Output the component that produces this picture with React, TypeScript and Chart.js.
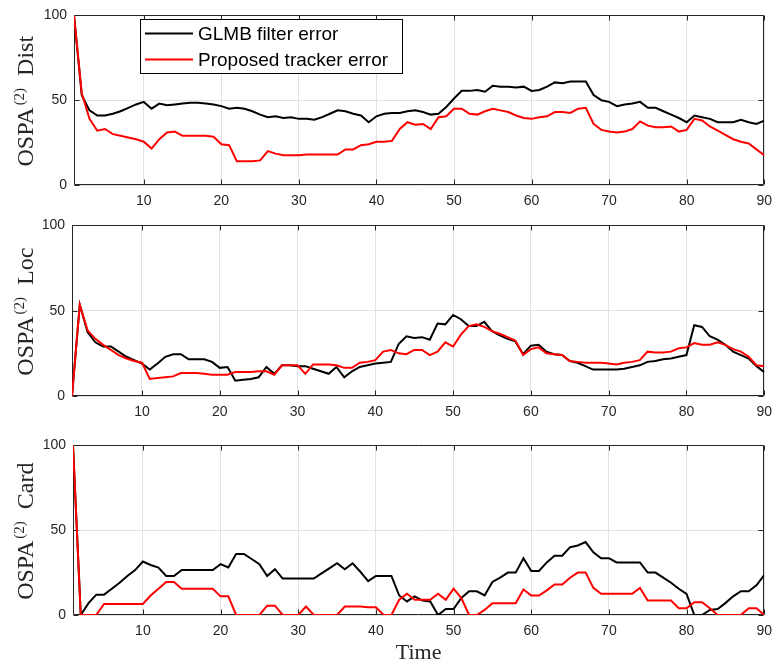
import React, { useEffect, useRef } from "react";
import { Chart, registerables } from "chart.js";
Chart.register(...registerables);

const TIME = [
  1, 2, 3, 4, 5, 6, 7, 8, 9, 10, 11, 12, 13, 14, 15, 16, 17, 18, 19, 20,
  21, 22, 23, 24, 25, 26, 27, 28, 29, 30, 31, 32, 33, 34, 35, 36, 37, 38, 39, 40,
  41, 42, 43, 44, 45, 46, 47, 48, 49, 50, 51, 52, 53, 54, 55, 56, 57, 58, 59, 60,
  61, 62, 63, 64, 65, 66, 67, 68, 69, 70, 71, 72, 73, 74, 75, 76, 77, 78, 79, 80,
  81, 82, 83, 84, 85, 86, 87, 88, 89, 90,
];
const X_TICKS = [10, 20, 30, 40, 50, 60, 70, 80, 90];
const Y_TICKS = [0, 50, 100];
const SERIES_LABELS = ["GLMB filter error", "Proposed tracker error"];
const X_TITLE = "Time";

const DIST_GLMB = [
  100, 53, 44, 41, 41, 42, 43.5, 45.5, 47.5, 49, 45, 48, 47, 47.5, 48, 48.5, 48.5, 48, 47.5, 46.5,
  45, 45.5, 45, 43.5, 41.5, 40, 40.5, 39.5, 40, 39, 39, 38.5, 40, 42, 44, 43.5, 42, 41, 37, 40.5,
  42, 42.5, 42.5, 43.5, 44, 43, 41.5, 42, 46, 51, 55.5, 55.5, 56, 55, 58.5, 58, 58, 57.5, 58, 55.5,
  56, 58, 60.5, 60, 61, 61, 61, 53, 50, 49, 46.5, 47.5, 48, 49, 45.5, 45.5, 43.5, 41.5, 39.5, 37,
  41, 40, 39, 37, 37, 37, 38.5, 37, 36, 38,
];
const DIST_PROP = [
  100, 54, 39, 32, 33, 30, 29, 28, 27, 25.5, 21.5, 27, 31, 31.5, 29, 29, 29, 29, 28.5, 24,
  23.5, 14, 14, 14, 14.5, 20, 18.5, 17.5, 17.5, 17.5, 18, 18, 18, 18, 18, 21, 21, 23.5, 24, 25.5,
  25.5, 26, 33, 37, 35.5, 36, 33, 40, 40.5, 45, 45, 42, 41.5, 43.5, 45, 44, 43, 41, 39.5, 39,
  40, 40.5, 43, 43, 42.5, 45, 45.5, 36, 32.5, 31.5, 31, 31.5, 33, 37.5, 35, 34, 34, 34.5, 31.5, 32.5,
  39, 38, 34.5, 32, 29.5, 27, 25.5, 24.5, 21, 17.5,
];
const LOC_GLMB = [
  0, 53.5, 37.5, 31.5, 29, 29, 26, 23, 21, 19, 15.5, 19, 23, 24.5, 24.5, 21.5, 21.5, 21.5, 20, 16.5,
  17, 9, 9.5, 10, 11, 17, 13, 18, 18, 17.5, 17.5, 16, 14.5, 13, 17, 11, 14.5, 17, 18, 19,
  19.5, 20, 30.5, 35, 34, 34.5, 33, 42.5, 42, 47.5, 45, 41, 41, 43.5, 38, 35.5, 33.5, 32, 24.5, 29.5,
  30, 26, 24.5, 24, 20.5, 19.5, 17.5, 15.5, 15.5, 15.5, 15.5, 16, 17, 18, 20, 20.5, 21.5, 22, 23, 24,
  41.5, 40.5, 35, 33, 30, 26, 24, 22, 17.5, 14,
];
const LOC_PROP = [
  0, 53.5, 38.5, 33.5, 30, 27, 24, 22, 20.5, 19.5, 10, 10.5, 11, 11.5, 13.5, 13.5, 13.5, 13, 12.5, 12.5,
  12.5, 14, 14, 14, 14.5, 14.5, 12.5, 18, 18, 18, 13, 18.5, 18.5, 18.5, 18, 16.5, 16.5, 19.5, 20, 21,
  26, 27, 25, 24.5, 27, 27, 24, 26, 31.5, 29, 36, 41, 42, 40.5, 38, 36.5, 34.5, 32.5, 24, 27.5,
  28.5, 25, 24.5, 24, 20.5, 20, 19.5, 19.5, 19.5, 19, 18.5, 19.5, 20, 21, 26, 25.5, 25.5, 26, 28, 28.5,
  31, 30, 30, 31.5, 30, 27.5, 26, 23, 18, 17.5,
];
const CARD_GLMB = [
  100, 0, 7, 12, 12, 15.5, 19, 23, 26.5, 31.5, 29.5, 28, 23, 23, 26.5, 26.5, 26.5, 26.5, 26.5, 30,
  28, 36, 36, 33, 30, 23, 27, 21.5, 21.5, 21.5, 21.5, 21.5, 24.5, 27.5, 30.5, 27, 30.5, 25.5, 20, 23,
  23, 23, 11.5, 8, 11, 8.5, 8, 0, 3.5, 3.5, 10, 14, 14, 11.5, 19.5, 22, 25, 25, 33.5, 26,
  26, 31, 35, 35, 40, 41, 43, 37, 33.5, 33.5, 31, 31, 31, 31, 25, 25, 22, 19, 15.5, 12.5,
  0, 0, 3, 3.5, 7, 11, 14, 14, 17.5, 23.5,
];
const CARD_PROP = [
  100, 0, 0, 0, 6.5, 6.5, 6.5, 6.5, 6.5, 6.5, 11.5, 15.5, 19.5, 19.5, 15.5, 15.5, 15.5, 15.5, 15.5, 11,
  11, 0, 0, 0, 0, 5.5, 5.5, 0, 0, 0, 5, 0, 0, 0, 0, 5, 5, 5, 4.5, 4.5,
  0, 0, 9, 12.5, 9, 9, 9, 12.5, 9, 15.5, 10, 0, 0, 3, 7, 7, 7, 7, 15, 11.5,
  11.5, 14.5, 18, 18, 22, 25, 25, 16, 12.5, 12.5, 12.5, 12.5, 12.5, 16, 8.5, 8.5, 8.5, 8.5, 4, 4,
  7.5, 7.5, 4, 0, 0, 0, 0, 4, 4, 0,
];

type PanelCfg = {
  top: number;
  height: number;
  plotTop: number;
  plotBottom: number;
  left: number;
  right: number;
  glmb: number[];
  prop: number[];
  titleWord: string;
  legend: boolean;
  xTitle: boolean;
};

const PANELS: PanelCfg[] = [
  { top: 0, height: 210, plotTop: 15, plotBottom: 185, left: 74, right: 770, glmb: DIST_GLMB, prop: DIST_PROP, titleWord: "Dist", legend: true, xTitle: false },
  { top: 210, height: 210, plotTop: 225, plotBottom: 396, left: 72, right: 768, glmb: LOC_GLMB, prop: LOC_PROP, titleWord: "Loc", legend: false, xTitle: false },
  { top: 430, height: 235, plotTop: 444, plotBottom: 615, left: 73, right: 769, glmb: CARD_GLMB, prop: CARD_PROP, titleWord: "Card", legend: false, xTitle: true },
];

const AXIS_COLOR = "#262626";
const GRID_COLOR = "#e2e2e2";
const TICK_FONT = { family: "'Liberation Sans', Arial, sans-serif", size: 14 };
const SERIF = "'Liberation Serif', 'Times New Roman', serif";
const SANS = "'Liberation Sans', Arial, sans-serif";

function Panel({ cfg }: { cfg: PanelCfg }) {
  const ref = useRef<HTMLCanvasElement>(null);
  useEffect(() => {
    const canvas = ref.current!;
    const p = cfg;
    const overlay = {
      id: "overlay",
      beforeDatasetsDraw(chart: any) {
        const ctx = chart.ctx as CanvasRenderingContext2D;
        const a = chart.chartArea;
        const L = Math.round(a.left) + 0.5;
        const R = Math.round(a.right) - 0.5;
        const T = Math.round(a.top) + 0.5;
        const B = Math.round(a.bottom) - 0.5;
        ctx.save();
        ctx.strokeStyle = AXIS_COLOR;
        ctx.lineWidth = 1;
        ctx.beginPath();
        ctx.rect(L, T, R - L, B - T);
        const tl = 5;
        for (const v of X_TICKS) {
          const x = Math.round(chart.scales.x.getPixelForValue(v)) + 0.5;
          ctx.moveTo(x, B);
          ctx.lineTo(x, B - tl);
          ctx.moveTo(x, T);
          ctx.lineTo(x, T + tl);
        }
        for (const v of Y_TICKS) {
          const y = Math.round(chart.scales.y.getPixelForValue(v)) + 0.5;
          ctx.moveTo(L, y);
          ctx.lineTo(L + tl, y);
          ctx.moveTo(R, y);
          ctx.lineTo(R - tl, y);
        }
        ctx.stroke();
        ctx.restore();
      },
      afterDraw(chart: any) {
        const ctx = chart.ctx as CanvasRenderingContext2D;
        const a = chart.chartArea;
        // y title: OSPA^(2) Word
        ctx.save();
        ctx.fillStyle = AXIS_COLOR;
        const cy = (a.top + a.bottom) / 2 + 1;
        ctx.translate(33, cy);
        ctx.rotate(-Math.PI / 2);
        ctx.textBaseline = "alphabetic";
        ctx.textAlign = "left";
        const mainFont = `24px ${SERIF}`;
        const supFont = `15px ${SERIF}`;
        ctx.font = mainFont;
        const w1 = ctx.measureText("OSPA").width;
        const w3 = ctx.measureText(p.titleWord).width;
        ctx.font = supFont;
        const w2 = ctx.measureText("(2)").width;
        const g1 = 2;
        const g2 = 12;
        const total = w1 + g1 + w2 + g2 + w3;
        let x = -total / 2;
        ctx.font = mainFont;
        ctx.fillText("OSPA", x, 0);
        x += w1 + g1;
        ctx.font = supFont;
        ctx.fillText("(2)", x, -9);
        x += w2 + g2;
        ctx.font = mainFont;
        ctx.fillText(p.titleWord, x, 0);
        ctx.restore();

        if (p.xTitle) {
          ctx.save();
          ctx.fillStyle = AXIS_COLOR;
          ctx.font = `22px ${SERIF}`;
          ctx.textAlign = "center";
          ctx.textBaseline = "alphabetic";
          ctx.fillText(X_TITLE, (a.left + a.right) / 2, 659 - p.top);
          ctx.restore();
        }

        if (p.legend) {
          ctx.save();
          const bx = 140.5, by = 19.5, bw = 262, bh = 54;
          ctx.fillStyle = "#ffffff";
          ctx.fillRect(bx, by, bw, bh);
          ctx.strokeStyle = "#000000";
          ctx.lineWidth = 1;
          ctx.strokeRect(bx, by, bw, bh);
          const rows = [
            { y: 33.5, color: "#000000", label: chart.data.datasets[0].label },
            { y: 59.5, color: "#ff0000", label: chart.data.datasets[1].label },
          ];
          ctx.font = `19px ${SANS}`;
          ctx.textBaseline = "middle";
          ctx.textAlign = "left";
          for (const r of rows) {
            ctx.strokeStyle = r.color;
            ctx.lineWidth = 2;
            ctx.beginPath();
            ctx.moveTo(145, r.y);
            ctx.lineTo(193, r.y);
            ctx.stroke();
            ctx.fillStyle = "#000000";
            ctx.fillText(r.label, 198, r.y + 1);
          }
          ctx.restore();
        }
      },
    };

    const chart = new Chart(canvas, {
      type: "line",
      data: {
        labels: TIME,
        datasets: [
          { label: SERIES_LABELS[0], data: p.glmb, borderColor: "#000000", backgroundColor: "#000000", borderWidth: 2, pointRadius: 0, tension: 0, order: 1 },
          { label: SERIES_LABELS[1], data: p.prop, borderColor: "#ff0000", backgroundColor: "#ff0000", borderWidth: 2, pointRadius: 0, tension: 0, order: 0 },
        ],
      },
      options: {
        animation: false,
        responsive: false,
        devicePixelRatio: 1,
        layout: { padding: { top: p.plotTop - p.top, right: 780 - p.right, left: 0, bottom: 0 } },
        plugins: { legend: { display: false }, tooltip: { enabled: false } },
        scales: {
          x: {
            type: "linear",
            min: 1,
            max: 90,
            afterBuildTicks: (s: any) => {
              s.ticks = X_TICKS.map((v) => ({ value: v }));
            },
            afterFit: (s: any) => {
              s.height = p.top + p.height - p.plotBottom;
            },
            ticks: { font: TICK_FONT, color: AXIS_COLOR, padding: 8, maxRotation: 0, autoSkip: false },
            grid: { color: GRID_COLOR, drawTicks: false },
            border: { display: false },
          },
          y: {
            type: "linear",
            min: 0,
            max: 100,
            afterBuildTicks: (s: any) => {
              s.ticks = Y_TICKS.map((v) => ({ value: v }));
            },
            afterFit: (s: any) => {
              s.width = p.left;
            },
            ticks: { font: TICK_FONT, color: AXIS_COLOR, padding: 7, autoSkip: false },
            grid: { color: GRID_COLOR, drawTicks: false },
            border: { display: false },
          },
        },
      } as any,
      plugins: [overlay],
    });
    return () => chart.destroy();
  }, [cfg]);
  return (
    <canvas
      ref={ref}
      width={780}
      height={cfg.height}
      style={{ position: "absolute", left: 0, top: cfg.top, width: 780, height: cfg.height }}
    />
  );
}

export default function App() {
  return (
    <div style={{ position: "absolute", left: 0, top: 0, width: 780, height: 665, background: "#ffffff" }}>
      {PANELS.map((c, i) => (
        <Panel key={i} cfg={c} />
      ))}
    </div>
  );
}
